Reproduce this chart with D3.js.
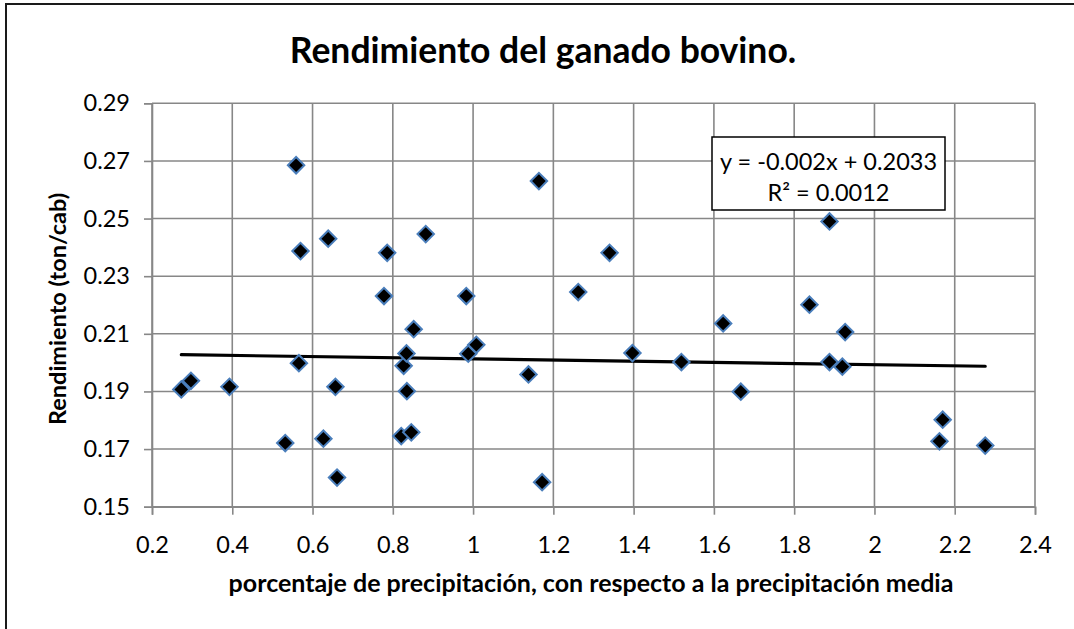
<!DOCTYPE html>
<html>
<head>
<meta charset="utf-8">
<script src="https://cdn.jsdelivr.net/npm/d3@7"></script>
<style>
  html, body { margin: 0; padding: 0; background: #fff; }
  svg { display: block; font-family: Lato, "Open Sans", sans-serif; }
</style>
</head>
<body>
<svg id="chart" width="1074" height="629"></svg>
<script>
// Precipitation ratio (x) and cattle yield in ton/head (y)
const precipitacion = [
  0.273, 0.297, 0.393, 0.532, 0.559, 0.566, 0.570, 0.627, 0.639, 0.657,
  0.661, 0.778, 0.786, 0.821, 0.827, 0.834, 0.835, 0.846, 0.852, 0.882,
  0.983, 0.988, 1.008, 1.138, 1.164, 1.172, 1.262, 1.340, 1.397, 1.519,
  1.623, 1.667, 1.838, 1.888, 1.888, 1.920, 1.927, 2.162, 2.170, 2.276
];
const rendimiento = [
  0.1907, 0.1937, 0.1916, 0.1721, 0.2685, 0.1998, 0.2387, 0.1736, 0.2430, 0.1916,
  0.1601, 0.2231, 0.2381, 0.1745, 0.1989, 0.2032, 0.1901, 0.1758, 0.2116, 0.2446,
  0.2231, 0.2031, 0.2062, 0.1959, 0.2630, 0.1585, 0.2245, 0.2381, 0.2033, 0.2002,
  0.2136, 0.1899, 0.2201, 0.2490, 0.2002, 0.1986, 0.2106, 0.1727, 0.1802, 0.1712
];

// Linear trend line as reported in the label
const pendiente = -0.002;
const intercepto = 0.2033;
const r2 = 0.0012;

const xTicks = [0.2, 0.4, 0.6, 0.8, 1.0, 1.2, 1.4, 1.6, 1.8, 2.0, 2.2, 2.4];
const yTicks = [0.15, 0.17, 0.19, 0.21, 0.23, 0.25, 0.27, 0.29];

const titulo = "Rendimiento del ganado bovino.";
const tituloX = "porcentaje de precipitación, con respecto a la precipitación media";
const tituloY = "Rendimiento (ton/cab)";

const svg = d3.select("#chart");
const W = 1074, H = 629;
const plot = { left: 152, right: 1035, top: 103.3, bottom: 506.7 };

const x = d3.scaleLinear().domain([0.2, 2.4]).range([plot.left, plot.right]);
const y = d3.scaleLinear().domain([0.15, 0.29]).range([plot.bottom, plot.top]);

const gridColor = "#878787";

// Outer chart frame (left and top edges visible)
svg.append("rect")
  .attr("x", 6).attr("y", 4)
  .attr("width", W + 20).attr("height", H + 20)
  .attr("fill", "#fff")
  .attr("stroke", "#1a1a1a").attr("stroke-width", 2);

// Title
svg.append("text")
  .attr("x", 543).attr("y", 63)
  .attr("text-anchor", "middle")
  .attr("font-size", 35.5).attr("font-weight", 700)
  .attr("fill", "#000")
  .text(titulo);

// Grid lines
const grid = svg.append("g");
grid.selectAll("line.gx").data(xTicks).join("line")
  .attr("x1", d => x(d)).attr("x2", d => x(d))
  .attr("y1", plot.top).attr("y2", plot.bottom)
  .attr("stroke", gridColor).attr("stroke-width", 1.6);
grid.selectAll("line.gy").data(yTicks).join("line")
  .attr("x1", plot.left).attr("x2", plot.right)
  .attr("y1", d => y(d)).attr("y2", d => y(d))
  .attr("stroke", gridColor).attr("stroke-width", 1.6);

// Axes
const xAxis = d3.axisBottom(x).tickValues(xTicks)
  .tickFormat(d => d3.format("")(+d.toFixed(1))).tickSize(8).tickPadding(22);
const yAxis = d3.axisLeft(y).tickValues(yTicks)
  .tickFormat(d => d.toFixed(2)).tickSize(8).tickPadding(14);

const gx = svg.append("g").attr("transform", `translate(0,${plot.bottom})`).call(xAxis);
const gy = svg.append("g").attr("transform", `translate(${plot.left},0)`).call(yAxis);
[gx, gy].forEach(g => {
  g.select(".domain").attr("stroke", gridColor).attr("stroke-width", 1.6);
  g.selectAll(".tick line").attr("stroke", gridColor).attr("stroke-width", 1.6);
  g.selectAll(".tick text")
    .attr("font-family", "Lato, sans-serif")
    .attr("font-size", 23.5).attr("fill", "#000");
});

// Axis titles
svg.append("text")
  .attr("x", 591).attr("y", 592)
  .attr("text-anchor", "middle")
  .attr("font-size", 25).attr("font-weight", 700)
  .text(tituloX);
svg.append("text")
  .attr("transform", "translate(66,309) rotate(-90)")
  .attr("text-anchor", "middle")
  .attr("font-size", 23.5).attr("font-weight", 700)
  .text(tituloY);

// Trend line across the data range
const [xmin, xmax] = d3.extent(precipitacion);
svg.append("line")
  .attr("x1", x(xmin)).attr("y1", y(pendiente * xmin + intercepto))
  .attr("x2", x(xmax)).attr("y2", y(pendiente * xmax + intercepto))
  .attr("stroke", "#000").attr("stroke-width", 3.2).attr("stroke-linecap", "round");

// Diamond markers
const puntos = precipitacion.map((p, i) => ({ p, r: rendimiento[i] }));
const diamante = d3.symbol().type(d3.symbolSquare).size(135);
svg.append("g").selectAll("path").data(puntos).join("path")
  .attr("d", diamante)
  .attr("transform", d => `translate(${x(d.p)},${y(d.r)}) rotate(45)`)
  .attr("fill", "#000")
  .attr("stroke", "#4a7ebb").attr("stroke-width", 2);

// Trend equation label
const eq = svg.append("g");
eq.append("rect")
  .attr("x", 712).attr("y", 137).attr("width", 233).attr("height", 73)
  .attr("fill", "#fff").attr("stroke", "#000").attr("stroke-width", 1.5);
const fmt = v => (v < 0 ? "-" : "") + Math.abs(v).toString();
eq.append("text")
  .attr("x", 828.5).attr("y", 170)
  .attr("text-anchor", "middle").attr("font-size", 23.5)
  .text(`y = ${fmt(pendiente)}x + ${intercepto}`);
eq.append("text")
  .attr("x", 828.5).attr("y", 201)
  .attr("text-anchor", "middle").attr("font-size", 23.5)
  .text(`R² = ${r2.toFixed(4)}`);
</script>
</body>
</html>
